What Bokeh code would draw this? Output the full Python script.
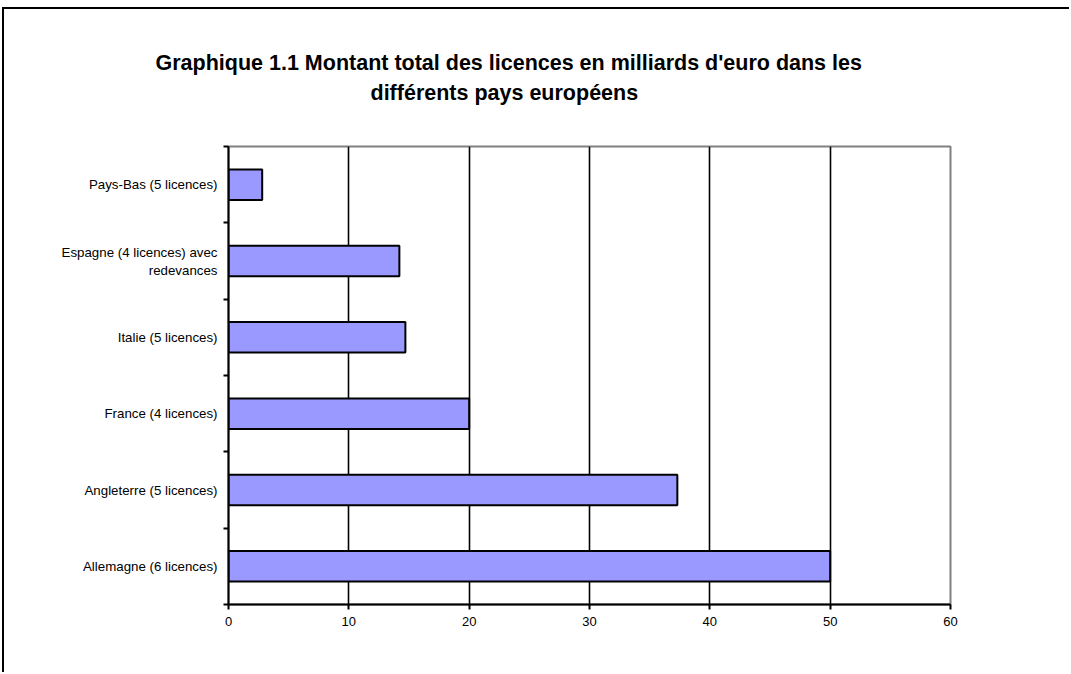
from bokeh.plotting import figure
from bokeh.models import Range1d, LinearAxis, FixedTicker, Title
from bokeh.embed import file_html
from bokeh.resources import INLINE

# Licence totals per country, in billions of euro (bottom to top)
countries = [
    "Allemagne (6 licences)",
    "Angleterre (5 licences)",
    "France (4 licences)",
    "Italie (5 licences)",
    "Espagne (4 licences) avec\nredevances",
    "Pays-Bas (5 licences)",
]
amounts = [50.0, 37.3, 20.0, 14.7, 14.2, 2.8]
x_ticks = [0, 10, 20, 30, 40, 50, 60]
title_lines = [
    "Graphique 1.1 Montant total des licences en milliards d'euro dans les",
    "différents pays européens",
]
title_offsets = [-73, 142]   # start of each title line, from the plot area's left edge

FONT = "Liberation Sans"
PAGE_W, PAGE_H = 1071, 674
EDGE_X, EDGE_Y = 4, 9        # chart frame line drawn by CSS at the top-left
W, H = PAGE_W - EDGE_X, PAGE_H - EDGE_Y
n = len(countries)
slot_centers = [i + 0.5 for i in range(n)]
slot_edges = list(range(n + 1))

p = figure(width=W, height=H, output_backend="svg", toolbar_location=None,
           y_range=Range1d(0, n),
           x_range=Range1d(x_ticks[0], x_ticks[-1]),
           y_axis_location=None,
           min_border_left=224, min_border_right=121,
           min_border_top=137, min_border_bottom=70)
p.styles = {"border-left": "2px solid black", "border-top": "2px solid black",
            "margin-left": "2px", "margin-top": "7px"}
p.background_fill_color = "white"
p.border_fill_color = "white"
p.outline_line_color = "#808080"
p.outline_line_width = 2

# value-axis side: tick marks between categories, no labels
edge_axis = LinearAxis(ticker=FixedTicker(ticks=slot_edges),
                       major_label_text_color=None,
                       major_label_text_font_size="1px",
                       major_tick_out=5, major_tick_in=0,
                       minor_tick_out=0, minor_tick_in=0,
                       axis_line_width=2, major_tick_line_width=2,
                       major_label_standoff=0)
p.add_layout(edge_axis, "left")

# category names centred on each bar
name_axis = LinearAxis(ticker=FixedTicker(ticks=slot_centers),
                       major_label_overrides=dict(zip(slot_centers, countries)),
                       axis_line_color=None, major_tick_line_color=None,
                       minor_tick_line_color=None,
                       major_label_standoff=0,
                       major_label_text_font=FONT,
                       major_label_text_font_size="13.3px",
                       major_label_text_color="black")
p.add_layout(name_axis, "left")

xa = p.xaxis[0]
xa.ticker = FixedTicker(ticks=x_ticks)
xa.major_tick_out = 5
xa.major_tick_in = 0
xa.minor_tick_line_color = None
xa.axis_line_width = 2
xa.major_tick_line_width = 2
xa.major_label_standoff = 7
xa.major_label_text_font = FONT
xa.major_label_text_font_size = "13px"
xa.major_label_text_color = "black"

p.ygrid.grid_line_color = None
p.xgrid.ticker = FixedTicker(ticks=x_ticks[1:-1])
p.xgrid.grid_line_color = "black"
p.xgrid.grid_line_width = 1.6

p.hbar(y=slot_centers, right=amounts, left=0, height=0.4,
       fill_color="#9999FF", line_color="black", line_width=2)

# title lines, stacked upwards from the plot area; the lower one carries
# the empty band that separates the title from the plot
pads = [0, 39]
for line, off, pad in reversed(list(zip(title_lines, title_offsets, pads))):
    p.add_layout(Title(text=line, align="left", offset=off, standoff=4,
                       vertical_align="middle", padding=(0, 0, 0, pad),
                       text_font=FONT, text_font_style="bold",
                       text_font_size="21.5px", text_color="black"), "above")

open("out.html", "w").write(file_html(p, INLINE))
